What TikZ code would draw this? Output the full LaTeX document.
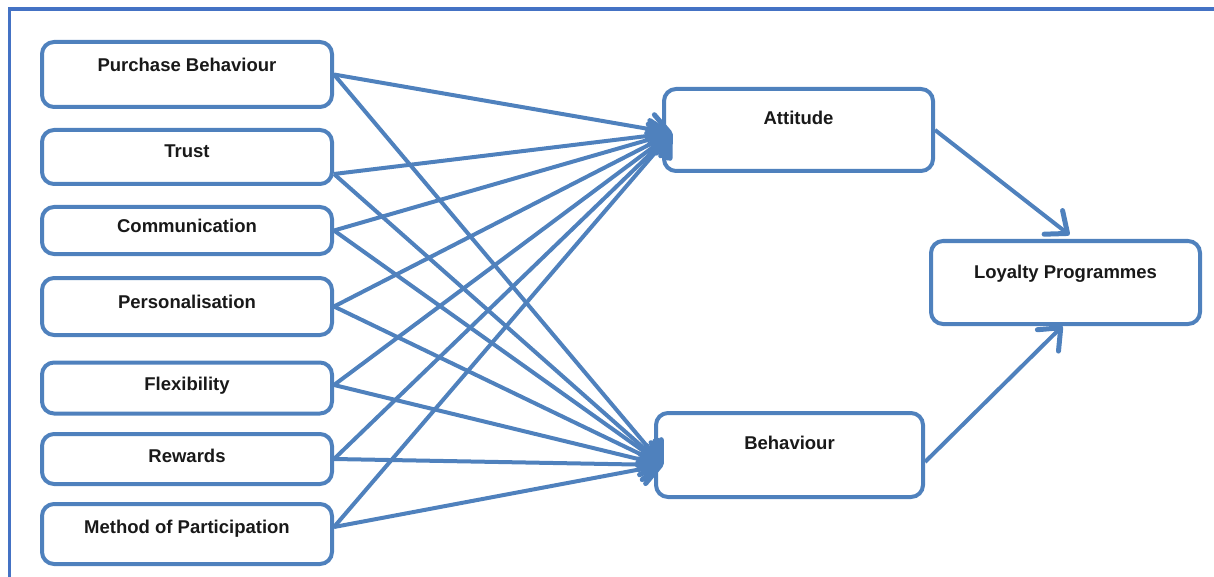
\documentclass[tikz,border=0pt]{standalone}
\usepackage{fontspec}
\setmainfont{Liberation Sans}
\usetikzlibrary{arrows.meta,calc}
\definecolor{boxblue}{RGB}{79,129,189}
\definecolor{frameblue}{RGB}{68,114,196}
\tikzset{
  box/.style={draw=boxblue, line width=4pt, rounded corners=12pt, fill=white, inner sep=0pt},
  lbl/.style={anchor=base, inner sep=0pt, font=\fontsize{18.5}{22}\selectfont\bfseries, text=black!90},
  conn/.style={draw=boxblue, line width=4pt, -{Straight Barb[length=18pt,width=30pt,line width=5pt,round]}},
  frame/.style={draw=frameblue, line width=3.5pt}
}
\begin{document}
\begin{tikzpicture}[x=1pt,y=-1pt]
\useasboundingbox (0,0) rectangle (1214,577);
\draw[frame] (9.5,577) -- (9.5,9) -- (1214,9);

% left boxes
\node[box, minimum width=290pt, minimum height=65pt] (pb) at (187,74.5) {};
\node[box, minimum width=290pt, minimum height=54pt] (tr) at (187,157) {};
\node[box, minimum width=290pt, minimum height=47pt] (co) at (187,230.5) {};
\node[box, minimum width=290pt, minimum height=57pt] (pe) at (187,306.5) {};
\node[box, minimum width=290pt, minimum height=51pt] (fl) at (187,388) {};
\node[box, minimum width=290pt, minimum height=50pt] (rw) at (187,459) {};
\node[box, minimum width=290pt, minimum height=60pt] (mp) at (187,534) {};
% middle and right boxes
\node[box, minimum width=269pt, minimum height=82pt] (at) at (798.5,130) {};
\node[box, minimum width=267pt, minimum height=84pt] (be) at (789.5,455) {};
\node[box, minimum width=269pt, minimum height=83pt] (lo) at (1065.5,282.5) {};

% labels
\node[lbl] (pbt) at (187,72) {Purchase Behaviour};
\node[lbl] (trt) at (187,158) {Trust};
\node[lbl] (cot) at (187,233) {Communication};
\node[lbl] (pet) at (187,308) {Personalisation};
\node[lbl] (flt) at (187,390) {Flexibility};
\node[lbl] (rwt) at (187,462) {Rewards};
\node[lbl] (mpt) at (187,533) {Method of Participation};
\node[lbl] (att) at (798.5,125) {Attitude};
\node[lbl] (bet) at (789.5,449) {Behaviour};
\node[lbl] (lot) at (1065.5,278) {Loyalty Programmes};

% convergence points
\coordinate (atin) at (672,133);
\coordinate (bein) at (663,465);

% connectors
\foreach \n/\s in {pb/0, tr/-17, co/0, pe/0, fl/3, rw/0, mp/7}{
  \draw[conn] ([yshift=\s pt]\n.east) -- (atin);
  \draw[conn] ([yshift=\s pt]\n.east) -- (bein);
}
\draw[conn] (at.east) -- ([xshift=4pt,yshift=4pt]lo.north);
\draw[conn] ([yshift=-7pt]be.east) -- ([xshift=-3pt]lo.south);
\end{tikzpicture}
\end{document}
